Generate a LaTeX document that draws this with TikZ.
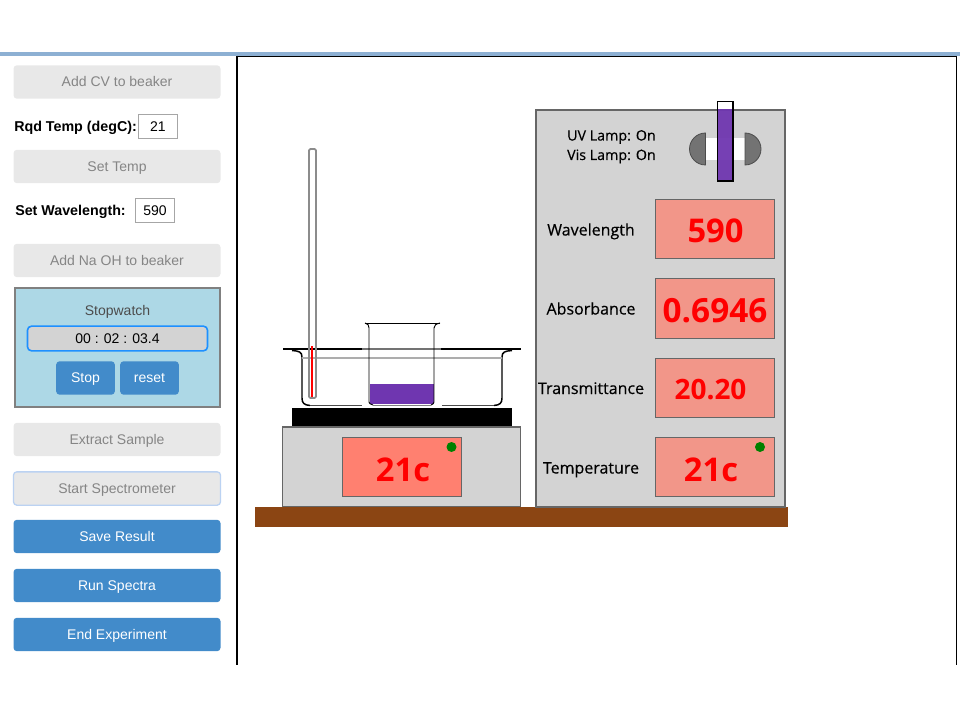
\documentclass[tikz,border=0pt]{standalone}
\usepackage{fontspec}
\setmainfont{Liberation Sans}
\newfontfamily\panelfont{Open Sans}
\newfontfamily\labelfont[FakeBold=0.4]{Open Sans}
\usepackage{tikz}
\definecolor{bar_blue}{HTML}{8DB0D3}
\definecolor{btn_blue}{HTML}{428BCA}
\definecolor{btn_grey}{HTML}{E8E8E8}
\definecolor{foc_blue}{HTML}{BBD2F2}
\definecolor{clock_blue}{HTML}{1E90FF}
\definecolor{watch_blue}{HTML}{ADD8E6}
\definecolor{case_grey}{HTML}{D3D3D3}
\definecolor{disp_salmon}{HTML}{FF8070}
\definecolor{disp_pale}{HTML}{F29689}
\definecolor{dye}{HTML}{6F36B0}
\definecolor{bench}{HTML}{8B4513}
\tikzset{
        panelbtn/.style = {rectangle, rounded corners=2.5pt, align=center, inner sep=0pt,
            text height=7.5pt, text depth=0.5pt,
            minimum width=155.25pt, minimum height=25pt, font=\fontsize{10.5}{12}\selectfont},
        btn_off/.style = {panelbtn, fill=btn_grey, text=black!48},
        btn_foc/.style = {btn_off, draw=foc_blue, line width=1pt},
        btn_on/.style = {panelbtn, fill=btn_blue, text=white},
        btn_small/.style = {btn_on, minimum width=44pt},
        field/.style = {rectangle, draw=black!35, fill=white, inner sep=0pt, line width=0.6pt,
            text height=7.5pt, text depth=0.5pt,
            minimum width=29.5pt, minimum height=18.25pt, font=\fontsize{10.5}{12}\selectfont},
        side_lbl/.style = {inner sep=0pt, anchor=base west, font=\fontsize{10.7}{12}\selectfont\bfseries},
        case/.style = {rectangle, draw=black!60, fill=case_grey, line width=0.9pt, inner sep=0pt},
        disp_r/.style = {rectangle, draw=black!60, fill=disp_pale, line width=0.9pt, inner sep=0pt,
            minimum width=89.5pt, minimum height=44.5pt},
        read_out/.style = {inner sep=0pt, anchor=base, text=red, font=\panelfont\bfseries\fontsize{#1}{26}\selectfont},
        inst_lbl/.style = {inner sep=0pt, anchor=base, font=\labelfont\fontsize{12}{14}\selectfont},
        lamp_lbl/.style = {inner sep=0pt, anchor=base east, font=\labelfont\fontsize{10.7}{12}\selectfont},
        led/.style = {circle, fill=green!50!black, inner sep=0pt, minimum size=7.5pt}
    }

\begin{document}
\begin{tikzpicture}[x=0.75pt,y=-0.75pt]
    \useasboundingbox (0,0) rectangle (960,720);
    % FRAME
    \fill[bar_blue] (0,52) rectangle (960,56);
    \draw[black, line width=0.6pt] (237,56) -- (956,56);
    \draw[black, line width=1.5pt] (237,56) -- (237,665);
    \draw[black, line width=0.6pt] (956,56) -- (956,665);

    % CONTROLS
    \node [btn_off] (addcv) at (117,82) {Add CV to beaker};
    \node [side_lbl] (rqdlbl) at (14,131.5) {Rqd Temp (degC):};
    \node [field] (rqdval) at (158,126.5) {21};
    \node [btn_off] (settemp) at (117,166.5) {Set Temp};
    \node [side_lbl] (wavelbl) at (15,216) {Set Wavelength:};
    \node [field] (waveval) at (155,210.5) {590};
    \node [btn_off] (addnaoh) at (117,260.5) {Add Na OH to beaker};

    % STOPWATCH
    \node [rectangle, draw=black!50, fill=watch_blue, line width=1.5pt, inner sep=0pt,
        minimum width=153.75pt, minimum height=89pt] (watch) at (117.5,347.5) {};
    \node [inner sep=0pt, anchor=base, text=black!70, font=\fontsize{10.5}{12}\selectfont] (watchlbl) at (117.5,315.5) {Stopwatch};
    \node [rectangle, rounded corners=3pt, draw=clock_blue, fill=case_grey, line width=1.2pt, inner sep=0pt,
        text height=7.5pt, text depth=0.5pt,
        minimum width=135pt, minimum height=18.5pt, font=\fontsize{10.5}{12}\selectfont] (clock) at (117.5,338.5) {00 : 02 : 03.4};
    \node [btn_small] (stop) at (85.5,378) {Stop};
    \node [btn_small] (reset) at (149.5,378) {reset};

    \node [btn_off] (extract) at (117,439.5) {Extract Sample};
    \node [btn_foc] (startspec) at (117,488.5) {Start Spectrometer};
    \node [btn_on] (save) at (117,536.5) {Save Result};
    \node [btn_on] (runspec) at (117,585.5) {Run Spectra};
    \node [btn_on] (endexp) at (117,634.5) {End Experiment};

    % HOTPLATE
    \fill[black] (292,407.5) rectangle (512,427);
    \node [case, minimum width=179pt, minimum height=60pt] (base) at (401.5,467) {};
    \node [disp_r, fill=disp_salmon] (platedisp) at (402,467) {};
    \node [read_out=24.5] (platetemp) at (403,481) {21c};
    \node [led] (plateled) at (451.5,447) {};

    % BENCH
    \fill[bench] (255,507) rectangle (788,527);

    % WATER BATH
    \draw[black, line width=1.1pt] (283,349) -- (362,349);
    \draw[black, line width=1.1pt] (441,349) -- (521,349);
    \draw[black!55, line width=1.1pt] (362,349) -- (441,349);
    \draw[black, line width=1.1pt] (292,350.5) .. controls (299,351) and (302,352) .. (302,357)
        -- (302,398) .. controls (302,403) and (304,405) .. (310,405.5);
    \draw[black, line width=1.1pt] (512,350.5) .. controls (505,351) and (502,352) .. (502,357)
        -- (502,398) .. controls (502,403) and (500,405) .. (494,405.5);
    \draw[black!70, line width=0.5pt] (310,405.5) -- (362,405.5);
    \draw[black!70, line width=0.5pt] (442,405.5) -- (494,405.5);
    \draw[black!32, line width=1.3pt] (302,358) -- (502,358);

    % SMALL BEAKER
    \fill[dye] (369.5,384) rectangle (434,404);
    \draw[black, line width=0.6pt] (365,323) -- (440,323);
    \draw[black, line width=0.7pt] (365,323) .. controls (368,324) and (369,325) .. (369,328) -- (369,402)
        .. controls (369,403) and (370,404.5) .. (373,405);
    \draw[black, line width=0.7pt] (440,323) .. controls (436,324) and (434,325) .. (434,328) -- (434,402)
        .. controls (434,403) and (433,404.5) .. (431,405);
    \draw[black!50, line width=0.6pt] (373,405) -- (431,405);

    % THERMOMETER
    \draw[black!45, line width=1.3pt, rounded corners=1pt] (309,149) rectangle (316,398);
    \draw[red, line width=1.2pt] (312,346) -- (312,397);

    % SPECTROMETER
    \node [case, minimum width=186.75pt, minimum height=297.75pt] (spec) at (660.5,308.5) {};
    \node [lamp_lbl] (uvlbl) at (656,140.5) {UV Lamp: On};
    \node [lamp_lbl] (vislbl) at (656,160) {Vis Lamp: On};
    \fill[white] (705,138) rectangle (745,160);
    \draw[black!70, fill=black!55, line width=0.6pt] (705.5,165) arc (90:270:16) -- cycle;
    \draw[black!70, fill=black!55, line width=0.6pt] (745,165) arc (90:-90:16) -- cycle;
    \fill[white] (717.5,101.5) rectangle (733,109);
    \fill[dye, opacity=0.95] (717.5,109) rectangle (733,181);
    \draw[black, line width=1.1pt] (717.5,101.5) rectangle (733,181);

    \node [inst_lbl] (wavename) at (591,235.5) {Wavelength};
    \node [disp_r] (wavedisp) at (715,229) {};
    \node [read_out=24.5] (waveread) at (715.5,242.5) {590};

    \node [inst_lbl] (absname) at (591,314.5) {Absorbance};
    \node [disp_r] (absdisp) at (715,308.5) {};
    \node [read_out=25] (absread) at (715,322) {0.6946};

    \node [inst_lbl] (transname) at (591,394) {Transmittance};
    \node [disp_r] (transdisp) at (715,388) {};
    \node [read_out=21] (transread) at (710.5,399.5) {20.20};

    \node [inst_lbl] (tempname) at (591,473.5) {Temperature};
    \node [disp_r] (tempdisp) at (715,467) {};
    \node [read_out=24.5] (tempread) at (711,481) {21c};
    \node [led] (templed) at (760,447) {};
\end{tikzpicture}
\end{document}
